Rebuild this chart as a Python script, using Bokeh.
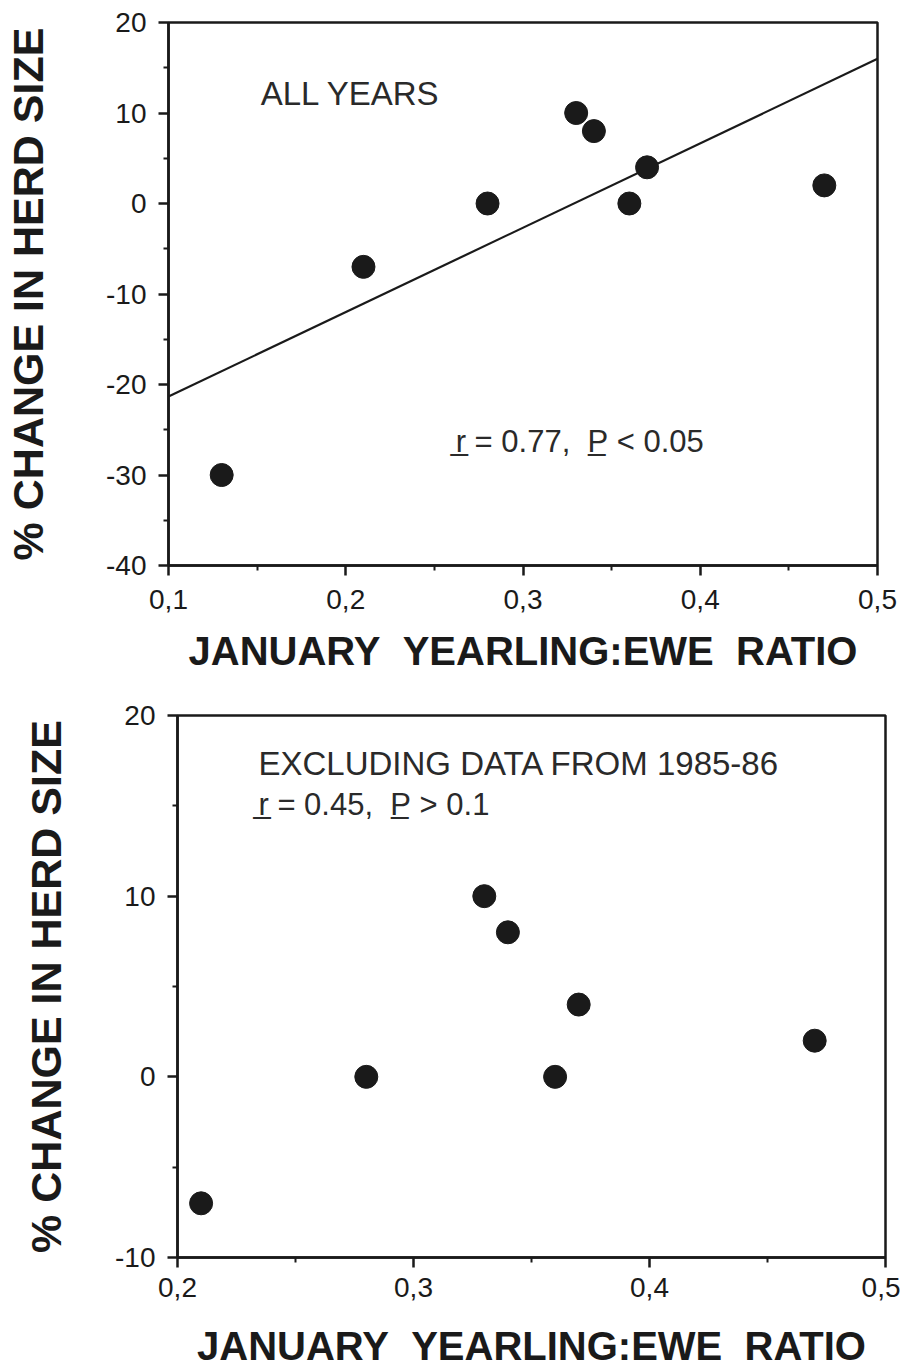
import numpy as np
from bokeh.plotting import figure
from bokeh.models import Label, FixedTicker, CustomJSTickFormatter, Range1d
from bokeh.embed import file_html
from bokeh.resources import INLINE

# ---- data ----
all_ratio = [0.13, 0.21, 0.28, 0.33, 0.34, 0.36, 0.37, 0.47]
all_change = [-30, -7, 0, 10, 8, 0, 4, 2]

excl_ratio = [0.21, 0.28, 0.33, 0.34, 0.36, 0.37, 0.47]
excl_change = [-7, 0, 10, 8, 0, 4, 2]

top_x_ticks = [0.1, 0.2, 0.3, 0.4, 0.5]
top_x_minor = [0.15, 0.25, 0.35, 0.45]
top_y_ticks = [-40, -30, -20, -10, 0, 10, 20]
top_y_minor = [-35, -25, -15, -5, 5, 15]

bot_x_ticks = [0.2, 0.3, 0.4, 0.5]
bot_x_minor = [0.25, 0.35, 0.45]
bot_y_ticks = [-10, 0, 10, 20]
bot_y_minor = [-5, 5, 15]

x_title = "JANUARY\u00a0\u00a0YEARLING:EWE\u00a0\u00a0RATIO"
y_title = "% CHANGE IN HERD SIZE"
top_note = "ALL YEARS"
top_stat = "r\u0332 = 0.77,\u00a0\u00a0P\u0332 < 0.05"
bot_note = "EXCLUDING DATA FROM 1985-86"
bot_stat = "r\u0332 = 0.45,\u00a0\u00a0P\u0332 > 0.1"

FONT = "Liberation Sans"
INK = "#1a1a1a"
TXT = "#2a2a2a"


def style(p, xt, xm, yt, ym, ylab_standoff, xtick_standoff, xlab_standoff):
    p.grid.visible = False
    p.outline_line_color = INK
    p.outline_line_width = 2.5
    p.outline_line_alpha = 1.0
    p.background_fill_color = "white"
    p.border_fill_color = "white"
    p.xaxis.ticker = FixedTicker(ticks=xt, minor_ticks=xm)
    p.yaxis.ticker = FixedTicker(ticks=yt, minor_ticks=ym)
    p.xaxis.formatter = CustomJSTickFormatter(code="return tick.toFixed(1).replace('.', ',');")
    p.yaxis.formatter = CustomJSTickFormatter(code="return tick.toFixed(0);")
    for ax in (p.xaxis, p.yaxis):
        ax.axis_line_width = 2.5
        ax.axis_line_color = INK
        ax.major_tick_line_width = 2.5
        ax.major_tick_line_color = INK
        ax.minor_tick_line_width = 2
        ax.minor_tick_line_color = INK
        ax.major_tick_out = 10
        ax.major_tick_in = 0
        ax.minor_tick_out = 5
        ax.minor_tick_in = 0
        ax.major_label_text_font = FONT
        ax.major_label_text_font_size = "28px"
        ax.major_label_text_color = INK
        ax.axis_label_text_font = FONT
        ax.axis_label_text_font_style = "bold"
        ax.axis_label_text_color = INK
    p.xaxis.axis_label = x_title
    p.yaxis.axis_label = y_title
    p.xaxis.axis_label_text_font_size = "40px"
    p.yaxis.axis_label_text_font_size = "43px"
    p.xaxis.major_label_standoff = xtick_standoff
    p.xaxis.axis_label_standoff = xlab_standoff
    p.yaxis.major_label_standoff = 12
    p.yaxis.axis_label_standoff = ylab_standoff


# ---- top panel ----
p1 = figure(width=900, height=684, x_range=Range1d(0.1, 0.5), y_range=Range1d(-40, 20),
            output_backend="svg", toolbar_location=None,
            min_border_left=168, min_border_right=23, min_border_top=22, min_border_bottom=119)
style(p1, top_x_ticks, top_x_minor, top_y_ticks, top_y_minor, 51, 14, 17)

slope, icpt = np.polyfit(all_ratio, all_change, 1)
fit_x = [p1.x_range.start, p1.x_range.end]
fit_y = [slope * v + icpt for v in fit_x]
p1.line(fit_x, fit_y, line_color=INK, line_width=2.2)
p1.scatter(all_ratio, all_change, size=23, fill_color=INK, line_color=INK)

p1.add_layout(Label(x=0.152, y=12.2, text=top_note, text_font=FONT, text_font_size="33px",
                    text_color=TXT, text_baseline="middle"))
p1.add_layout(Label(x=0.262, y=-26.3, text=top_stat, text_font=FONT, text_font_size="31px",
                    text_color=TXT, text_baseline="middle"))

# ---- bottom panel ----
p2 = figure(width=900, height=686, x_range=Range1d(0.2, 0.5), y_range=Range1d(-10, 20),
            output_backend="svg", toolbar_location=None,
            min_border_left=177, min_border_right=15, min_border_top=31, min_border_bottom=112)
style(p2, bot_x_ticks, bot_x_minor, bot_y_ticks, bot_y_minor, 42, 10, 24)

p2.scatter(excl_ratio, excl_change, size=23, fill_color=INK, line_color=INK)
p2.add_layout(Label(x=0.2343, y=17.35, text=bot_note, text_font=FONT, text_font_size="33px",
                    text_color=TXT, text_baseline="middle"))
p2.add_layout(Label(x=0.2343, y=15.1, text=bot_stat, text_font=FONT, text_font_size="31px",
                    text_color=TXT, text_baseline="middle"))

open("out.html", "w").write(file_html([p1, p2], INLINE))
